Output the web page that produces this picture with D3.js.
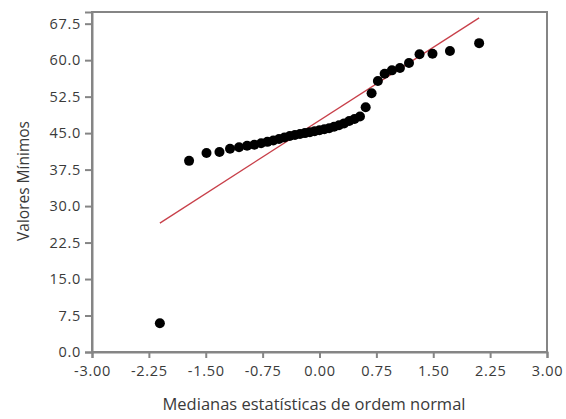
<!DOCTYPE html>
<html><head><meta charset="utf-8">
<script src="https://cdn.jsdelivr.net/npm/d3@7/dist/d3.min.js"></script>
<style>body{margin:0;background:#fff;}svg{display:block;}</style>
</head><body>
<svg id="c" width="566" height="419"></svg>
<script>
// Normal order statistic medians (x) and sorted observed minimum values (y)
const xValues = [-2.105,-1.720,-1.490,-1.319,-1.180,-1.061,-0.955,-0.859,-0.770,-0.687,
  -0.609,-0.534,-0.462,-0.392,-0.324,-0.257,-0.192,-0.127,-0.064,0.000,
  0.064,0.127,0.192,0.257,0.324,0.392,0.462,0.534,0.609,0.687,
  0.770,0.859,0.955,1.061,1.180,1.319,1.490,1.720,2.105];
const yValues = [5.9,39.3,40.9,41.1,41.8,42.1,42.4,42.6,42.9,43.2,
  43.5,43.8,44.1,44.4,44.6,44.8,45.0,45.2,45.4,45.6,
  45.8,46.0,46.3,46.6,47.0,47.5,47.9,48.4,50.3,53.2,
  55.7,57.2,57.9,58.4,59.4,61.2,61.3,61.9,63.5];
const fitLineX = [-2.105, 2.105];
const fitLineY = [26.5, 68.7];
const xTicks = [-3.00,-2.25,-1.50,-0.75,0.00,0.75,1.50,2.25,3.00];
const yTicks = [0.0,7.5,15.0,22.5,30.0,37.5,45.0,52.5,60.0,67.5];
const xTitle = "Medianas estatísticas de ordem normal";
const yTitle = "Valores Mínimos";

const svg = d3.select("#c");
const L = 92, R = 547, T = 12, B = 352;
const x = d3.scaleLinear().domain([-3, 3]).range([L, R]);
const y = d3.scaleLinear().domain([0, 69.9]).range([B, T]);
const frame = "#858585", txt = "#3a3a3a";
const font = "'Open Sans', sans-serif";

// frame
svg.append("rect").attr("x", L).attr("y", T).attr("width", R - L).attr("height", B - T)
  .attr("fill", "none").attr("stroke", frame).attr("stroke-width", 2);

const xAxis = svg.append("g").attr("transform", `translate(0,${B})`)
  .call(d3.axisBottom(x).tickValues(xTicks).tickFormat(d => d.toFixed(2)).tickSize(6).tickPadding(8));
const yAxis = svg.append("g").attr("transform", `translate(${L},0)`)
  .call(d3.axisLeft(y).tickValues(yTicks).tickFormat(d => d.toFixed(1)).tickSize(7).tickPadding(4));
[xAxis, yAxis].forEach(g => {
  g.select(".domain").attr("stroke", frame).attr("stroke-width", 2);
  g.selectAll(".tick line").attr("stroke", frame).attr("stroke-width", 2);
  g.selectAll(".tick text").attr("fill", txt).style("font-family", font)
    .style("font-size", "14.5px").style("letter-spacing", "0.7px");
});

// fitted line
svg.append("line")
  .attr("x1", x(fitLineX[0])).attr("y1", y(fitLineY[0]))
  .attr("x2", x(fitLineX[1])).attr("y2", y(fitLineY[1]))
  .attr("stroke", "#c8404a").attr("stroke-width", 1.3);

// points
svg.append("g").selectAll("circle").data(xValues.map((v, i) => [v, yValues[i]]))
  .join("circle").attr("cx", d => x(d[0])).attr("cy", d => y(d[1])).attr("r", 5)
  .attr("fill", "#000");

// titles
svg.append("text").attr("x", 314).attr("y", 410).attr("text-anchor", "middle")
  .attr("fill", txt).style("font-family", font).style("font-size", "16.5px").text(xTitle);
svg.append("text").attr("transform", "translate(29,181) rotate(-90)").attr("text-anchor", "middle")
  .attr("fill", txt).style("font-family", font).style("font-size", "15.5px").text(yTitle);
</script>
</body></html>
